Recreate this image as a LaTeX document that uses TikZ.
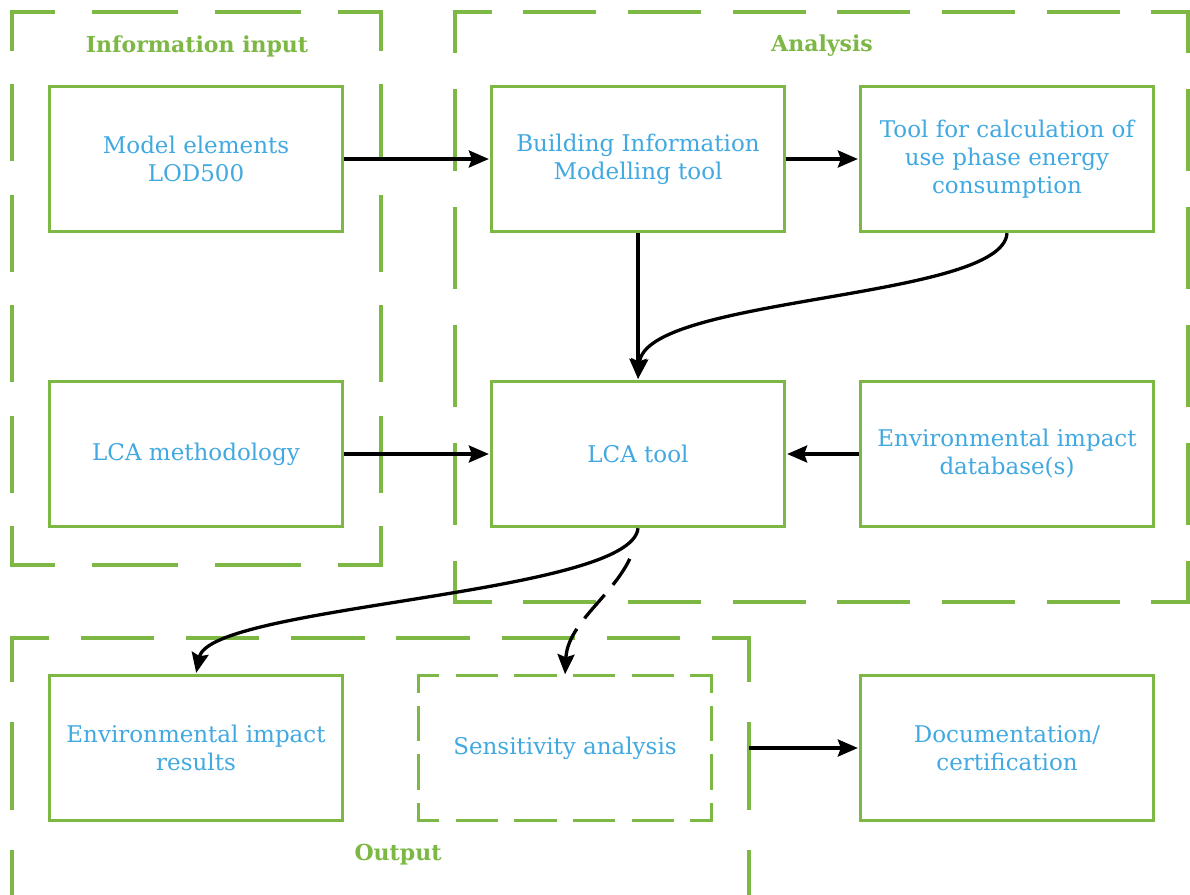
\documentclass[tikz,border=0pt]{standalone}
\usepackage{fontspec}
\setmainfont{DejaVu Serif}
\usetikzlibrary{arrows.meta}
\definecolor{grp}{HTML}{7DB744}
\definecolor{txt}{HTML}{41A9E1}
\tikzset{
  boxbase/.style={minimum width=293pt, minimum height=145pt,
    text=txt, align=center, font=\fontsize{23}{28}\selectfont, inner sep=0pt},
  box/.style={boxbase, draw=grp, line width=3.3pt},
  softbox/.style={boxbase, draw=none},
  grpline/.style={draw=grp, line width=3.3pt, line cap=rect},
  grouplabel/.style={text=grp, font=\fontsize{22}{26}\selectfont\bfseries},
  flow/.style={draw=black, line width=3.3pt, shorten >=1pt,
    -{Stealth[length=20pt,width=17pt,inset=3pt]}},
}
% one side of a dashed frame: every side opens and closes with a half dash
% #1 start, #2 end, #3 side length, #4 number of dash periods
\newcommand{\grpside}[4]{%
  \pgfmathsetmacro\grpOn{2*#3/#4/3}%
  \pgfmathsetmacro\grpOff{#3/#4/3}%
  \draw[grpline, dash pattern=on \grpOn pt off \grpOff pt, dash phase=\grpOff pt] #1 -- #2;}
\begin{document}
\begin{tikzpicture}[x=1pt, y=-1pt]
\clip (0,0) rectangle (1190,894);
\fill[white] (0,0) rectangle (1190,894);

% frame of the input group
\coordinate (inNW) at (12,12);   \coordinate (inNE) at (381,12);
\coordinate (inSW) at (12,565);  \coordinate (inSE) at (381,565);
\grpside{(inNW)}{(inNE)}{369}{3}
\grpside{(inSW)}{(inSE)}{369}{3}
\grpside{(inNW)}{(inSW)}{553}{5}
\grpside{(inNE)}{(inSE)}{553}{5}

% frame of the analysis group
\coordinate (anNW) at (455,12);  \coordinate (anNE) at (1188,12);
\coordinate (anSW) at (455,602); \coordinate (anSE) at (1188,602);
\grpside{(anNW)}{(anNE)}{733}{7}
\grpside{(anSW)}{(anSE)}{733}{7}
\grpside{(anNW)}{(anSW)}{590}{5}
\grpside{(anNE)}{(anSE)}{590}{5}

% frame of the output group (runs past the lower edge)
\coordinate (ouNW) at (12,638);  \coordinate (ouNE) at (749,638);
\coordinate (ouSW) at (12,1022); \coordinate (ouSE) at (749,1022);
\grpside{(ouNW)}{(ouNE)}{737}{7}
\grpside{(ouNW)}{(ouSW)}{384}{3}
\grpside{(ouNE)}{(ouSE)}{384}{3}
\coordinate (outright) at (749,748);

\node[grouplabel] (lblinput) at (197,46) {Information input};
\node[grouplabel] (lblanalysis) at (822,46) {Analysis};
\node[grouplabel] (lbloutput) at (398,855) {Output};

% process boxes
\node[box] (model) at (196,159) {Model elements\\LOD500};
\node[box] (bim) at (638,159) {Building Information\\Modelling tool};
\node[box] (energy) at (1007,159) {Tool for calculation of\\use phase energy\\consumption};
\node[box] (method) at (196,454) {LCA methodology};
\node[box] (lca) at (638,454) {LCA tool};
\node[box] (envdb) at (1007,454) {Environmental impact\\database(s)};
\node[box] (results) at (196,748) {Environmental impact\\results};
\node[softbox] (sens) at (565,748) {Sensitivity analysis};
\grpside{(sens.north west)}{(sens.north east)}{293}{5}
\grpside{(sens.south west)}{(sens.south east)}{293}{5}
\grpside{(sens.north west)}{(sens.south west)}{145}{3}
\grpside{(sens.north east)}{(sens.south east)}{145}{3}
\node[box] (docs) at (1007,748) {Documentation/\\certification};

% connectors
\draw[flow] (model.east) -- (bim.west);
\draw[flow] (bim.east) -- (energy.west);
\draw[flow] (bim.south) -- (lca.north);
\draw[flow] (energy.south) .. controls (1003,300) and (645,296) .. (lca.north);
\draw[flow] (method.east) -- (lca.west);
\draw[flow] (envdb.west) -- (lca.east);
\draw[flow] (lca.south) .. controls (632,595) and (210,605) .. (results.north);
\draw[flow, dash pattern=on 0pt off 32pt on 31pt off 13pt on 31pt off 13pt on 200pt]
  (lca.south) .. controls (635,585) and (568,615) .. (sens.north);
\draw[flow] (outright) -- (docs.west);
\end{tikzpicture}
\end{document}
